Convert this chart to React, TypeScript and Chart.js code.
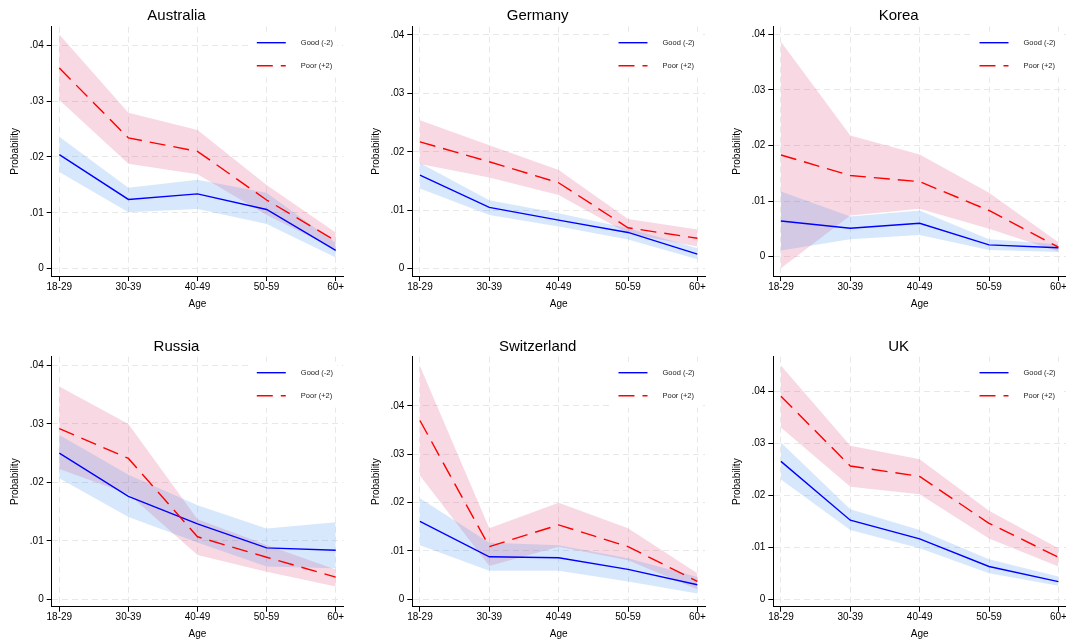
import React, { useEffect, useRef } from 'react';
import { Chart, registerables } from 'chart.js';

Chart.register(...registerables);

// ---------- data ----------
const AGE_GROUPS = ['18-29', '30-39', '40-49', '50-59', '60+'];
const Y_TICKS = [0, 0.01, 0.02, 0.03, 0.04];
const Y_TICK_LABELS = ['0', '.01', '.02', '.03', '.04'];
const SERIES_LABELS = ['Good (-2)', 'Poor (+2)'];

const AUS_GOOD = [0.0204, 0.0124, 0.0134, 0.0106, 0.0033];
const AUS_GOOD_LO = [0.0173, 0.0101, 0.0107, 0.008, 0.002];
const AUS_GOOD_HI = [0.0236, 0.0145, 0.0159, 0.0136, 0.0046];
const AUS_POOR = [0.0359, 0.0234, 0.021, 0.0123, 0.005];
const AUS_POOR_LO = [0.0302, 0.0188, 0.0169, 0.0096, 0.0035];
const AUS_POOR_HI = [0.0419, 0.0279, 0.0248, 0.015, 0.0065];

const GER_GOOD = [0.016, 0.0105, 0.0083, 0.0062, 0.0025];
const GER_GOOD_LO = [0.0137, 0.0092, 0.0072, 0.005, 0.0016];
const GER_GOOD_HI = [0.0181, 0.0117, 0.0095, 0.0069, 0.0035];
const GER_POOR = [0.0217, 0.0183, 0.0147, 0.007, 0.0052];
const GER_POOR_LO = [0.0179, 0.0156, 0.0126, 0.006, 0.0038];
const GER_POOR_HI = [0.0254, 0.0211, 0.0169, 0.0085, 0.0067];

const KOR_GOOD = [0.0064, 0.0051, 0.006, 0.0021, 0.0016];
const KOR_GOOD_LO = [0.0011, 0.0031, 0.0039, 0.0012, 0.0008];
const KOR_GOOD_HI = [0.0117, 0.0072, 0.0083, 0.0031, 0.0022];
const KOR_POOR = [0.0183, 0.0146, 0.0135, 0.0083, 0.0017];
const KOR_POOR_LO = [-0.0021, 0.0074, 0.0086, 0.005, 0.0009];
const KOR_POOR_HI = [0.0387, 0.0218, 0.0184, 0.0115, 0.0026];

const RUS_GOOD = [0.025, 0.0176, 0.0129, 0.0088, 0.0084];
const RUS_GOOD_LO = [0.0207, 0.0141, 0.0097, 0.0056, 0.0053];
const RUS_GOOD_HI = [0.0281, 0.0213, 0.0161, 0.0121, 0.0132];
const RUS_POOR = [0.0292, 0.0241, 0.0107, 0.0072, 0.0038];
const RUS_POOR_LO = [0.0223, 0.018, 0.0076, 0.0047, 0.0022];
const RUS_POOR_HI = [0.0364, 0.03, 0.0137, 0.0093, 0.0051];

const SWI_GOOD = [0.0161, 0.0088, 0.0086, 0.0062, 0.003];
const SWI_GOOD_LO = [0.0112, 0.0059, 0.0059, 0.0037, 0.0012];
const SWI_GOOD_HI = [0.0209, 0.0117, 0.0112, 0.0085, 0.0046];
const SWI_POOR = [0.037, 0.0109, 0.0154, 0.0109, 0.0037];
const SWI_POOR_LO = [0.0256, 0.0069, 0.0109, 0.0081, 0.0021];
const SWI_POOR_HI = [0.0483, 0.0147, 0.02, 0.0147, 0.0054];

const UK_GOOD = [0.0265, 0.0152, 0.0116, 0.0063, 0.0034];
const UK_GOOD_LO = [0.023, 0.0133, 0.0098, 0.005, 0.0026];
const UK_GOOD_HI = [0.0301, 0.0173, 0.0133, 0.0077, 0.0044];
const UK_POOR = [0.039, 0.0256, 0.0236, 0.0146, 0.0081];
const UK_POOR_LO = [0.033, 0.0216, 0.0202, 0.0117, 0.0063];
const UK_POOR_HI = [0.0449, 0.0295, 0.0269, 0.017, 0.0098];

const AUS_Y_RANGE = [-0.0013, 0.0433];
const GER_Y_RANGE = [-0.00125, 0.0414];
const KOR_Y_RANGE = [-0.0035, 0.0414];
const RUS_Y_RANGE = [-0.00126, 0.0415];
const SWI_Y_RANGE = [-0.00153, 0.0502];
const UK_Y_RANGE = [-0.00142, 0.0466];

// ---------- layout / style ----------
const FONT = '"Liberation Sans", Arial, Helvetica, sans-serif';
const BLUE = '#0000ff';
const RED = '#ff0000';
const BLUE_BAND = 'rgba(60, 140, 240, 0.2)';
const RED_BAND = 'rgba(220, 60, 110, 0.2)';
const RED_DASH = [16, 8];
const LINE_W = 1.4;

type PanelCfg = {
  title: string;
  good: number[]; goodLo: number[]; goodHi: number[];
  poor: number[]; poorLo: number[]; poorHi: number[];
  yRange: number[];
  box: { x: number; y: number; w: number; h: number };
  plot: { L: number; R: number; T: number; B: number };
  titleY: number;
};

const ROW1 = { y: 0, h: 310, T: 26.7, B: 276, titleY: 15.7 };
const ROW2 = { y: 321, h: 319, T: 356.7, B: 606.7, titleY: 346.7 };
const COL1 = { x: 0, w: 354, L: 51.7, R: 343.3 };
const COL2 = { x: 360, w: 355, L: 412.3, R: 705 };
const COL3 = { x: 730, w: 336, L: 773.3, R: 1066 };

function mk(title: string, arrs: number[][], yRange: number[], col: any, row: any): PanelCfg {
  return {
    title,
    good: arrs[0], goodLo: arrs[1], goodHi: arrs[2],
    poor: arrs[3], poorLo: arrs[4], poorHi: arrs[5],
    yRange,
    box: { x: col.x, y: row.y, w: col.w, h: row.h },
    plot: { L: col.L, R: col.R, T: row.T, B: row.B },
    titleY: row.titleY,
  };
}

const PANELS: PanelCfg[] = [
  mk('Australia', [AUS_GOOD, AUS_GOOD_LO, AUS_GOOD_HI, AUS_POOR, AUS_POOR_LO, AUS_POOR_HI], AUS_Y_RANGE, COL1, ROW1),
  mk('Germany', [GER_GOOD, GER_GOOD_LO, GER_GOOD_HI, GER_POOR, GER_POOR_LO, GER_POOR_HI], GER_Y_RANGE, COL2, ROW1),
  mk('Korea', [KOR_GOOD, KOR_GOOD_LO, KOR_GOOD_HI, KOR_POOR, KOR_POOR_LO, KOR_POOR_HI], KOR_Y_RANGE, COL3, ROW1),
  mk('Russia', [RUS_GOOD, RUS_GOOD_LO, RUS_GOOD_HI, RUS_POOR, RUS_POOR_LO, RUS_POOR_HI], RUS_Y_RANGE, COL1, ROW2),
  mk('Switzerland', [SWI_GOOD, SWI_GOOD_LO, SWI_GOOD_HI, SWI_POOR, SWI_POOR_LO, SWI_POOR_HI], SWI_Y_RANGE, COL2, ROW2),
  mk('UK', [UK_GOOD, UK_GOOD_LO, UK_GOOD_HI, UK_POOR, UK_POOR_LO, UK_POOR_HI], UK_Y_RANGE, COL3, ROW2),
];

const toPts = (arr: number[]) => arr.map((v, i) => ({ x: i, y: v }));

const insideLegend = {
  id: 'insideLegend',
  afterDatasetsDraw(chart: any) {
    const { ctx, chartArea } = chart;
    const items = chart.data.datasets.filter((d: any) => d.isSeries);
    const R = chartArea.right;
    const T = chartArea.top;
    ctx.save();
    ctx.fillStyle = '#ffffff';
    ctx.fillRect(R - 92, T + 5, 86, 46);
    items.forEach((d: any, i: number) => {
      const y = T + 16 + i * 23;
      ctx.strokeStyle = d.borderColor;
      ctx.lineWidth = d.borderWidth;
      ctx.setLineDash(d.borderDash || []);
      ctx.beginPath();
      ctx.moveTo(R - 86.5, y);
      ctx.lineTo(R - 57.5, y);
      ctx.stroke();
      ctx.setLineDash([]);
      ctx.fillStyle = '#222';
      ctx.font = `7.5px ${FONT}`;
      ctx.textAlign = 'left';
      ctx.textBaseline = 'middle';
      ctx.fillText(d.label, R - 42.5, y);
    });
    ctx.restore();
  },
};

function Panel({ cfg }: { cfg: PanelCfg }) {
  const ref = useRef<HTMLCanvasElement | null>(null);
  useEffect(() => {
    if (!ref.current) return;
    const { box, plot, titleY } = cfg;
    const yTitleCenter = plot.L - 36;
    const scaleLeft = yTitleCenter - 6;
    const padLeft = scaleLeft - box.x;
    const padRight = box.x + box.w - plot.R;
    const padTop = titleY - 9 - box.y;
    const titlePadBottom = plot.T - (titleY + 9);
    const xHeight = box.y + box.h - plot.B;
    const yWidth = plot.L - scaleLeft;

    const band = (data: number[], color: string | false, order: number) => ({
      data: toPts(data),
      borderWidth: 0,
      borderColor: 'rgba(0,0,0,0)',
      backgroundColor: color || 'rgba(0,0,0,0)',
      pointRadius: 0,
      tension: 0,
      fill: color ? '+1' : false,
      order,
    });

    const tickFont = { family: FONT, size: 10 };

    const chart = new Chart(ref.current, {
      type: 'line',
      data: {
        datasets: [
          { ...band(cfg.poorHi, RED_BAND, 3), label: 'poorHi' },
          { ...band(cfg.poorLo, false, 3), label: 'poorLo' },
          { ...band(cfg.goodHi, BLUE_BAND, 2), label: 'goodHi' },
          { ...band(cfg.goodLo, false, 2), label: 'goodLo' },
          {
            label: SERIES_LABELS[0], isSeries: true,
            data: toPts(cfg.good), borderColor: BLUE, borderWidth: LINE_W,
            pointRadius: 0, tension: 0, fill: false, order: 1,
          },
          {
            label: SERIES_LABELS[1], isSeries: true,
            data: toPts(cfg.poor), borderColor: RED, borderWidth: LINE_W, borderDash: RED_DASH,
            pointRadius: 0, tension: 0, fill: false, order: 0,
          },
        ] as any,
      },
      options: {
        animation: false,
        responsive: false,
        devicePixelRatio: 1,
        events: [],
        layout: { padding: { left: padLeft, right: padRight, top: padTop, bottom: 0 } },
        plugins: {
          legend: { display: false },
          tooltip: { enabled: false },
          title: {
            display: true,
            text: cfg.title,
            color: '#000',
            font: { family: FONT, size: 15, weight: 'normal' },
            padding: { top: 0, bottom: titlePadBottom },
          },
        },
        scales: {
          x: {
            type: 'linear',
            min: -0.11,
            max: 4.11,
            afterBuildTicks: (s: any) => {
              s.ticks = AGE_GROUPS.map((_, i) => ({ value: i }));
            },
            afterFit: (s: any) => {
              s.height = xHeight;
              s.paddingLeft = 0;
              s.paddingRight = 0;
            },
            ticks: {
              callback: (v: any) => AGE_GROUPS[Math.round(v)],
              color: '#000',
              font: tickFont,
              padding: 0,
              maxRotation: 0,
              autoSkip: false,
            },
            grid: { color: '#e8e8e8', lineWidth: 1, tickLength: 5, tickColor: '#000', tickWidth: 1 },
            border: { display: true, color: '#000', width: 1, dash: [6, 4] },
            title: { display: true, text: 'Age', color: '#000', font: tickFont, padding: 0 },
          },
          y: {
            type: 'linear',
            min: cfg.yRange[0],
            max: cfg.yRange[1],
            afterBuildTicks: (s: any) => {
              s.ticks = Y_TICKS.map((v) => ({ value: v }));
            },
            afterFit: (s: any) => {
              s.width = yWidth;
              s.paddingTop = 0;
              s.paddingBottom = 0;
            },
            ticks: {
              callback: (v: any) => {
                const idx = Y_TICKS.findIndex((t) => Math.abs(t - v) < 1e-9);
                return idx >= 0 ? Y_TICK_LABELS[idx] : '';
              },
              color: '#000',
              font: tickFont,
              padding: 3,
              autoSkip: false,
            },
            grid: { color: '#e8e8e8', lineWidth: 1, tickLength: 5, tickColor: '#000', tickWidth: 1 },
            border: { display: true, color: '#000', width: 1, dash: [6, 4] },
            title: { display: true, text: 'Probability', color: '#000', font: tickFont, padding: 0 },
          },
        },
      } as any,
      plugins: [insideLegend],
    });
    return () => chart.destroy();
  }, [cfg]);

  return (
    <canvas
      ref={ref}
      width={cfg.box.w}
      height={cfg.box.h}
      style={{ position: 'absolute', left: cfg.box.x, top: cfg.box.y, width: cfg.box.w, height: cfg.box.h }}
    />
  );
}

export default function App() {
  return (
    <div style={{ position: 'fixed', left: 0, top: 0, width: 1066, height: 642, background: '#fff', overflow: 'hidden' }}>
      {PANELS.map((p) => (
        <Panel key={p.title} cfg={p} />
      ))}
    </div>
  );
}
